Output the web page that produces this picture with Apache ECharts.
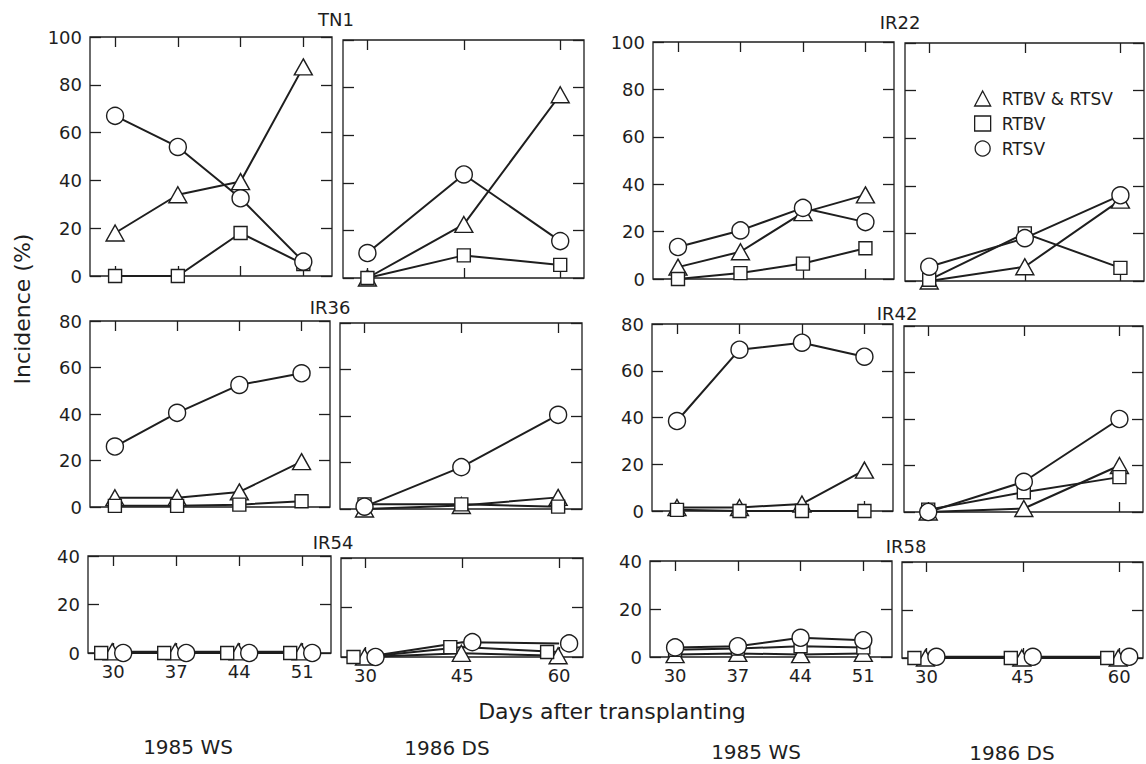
<!DOCTYPE html>
<html>
<head>
<meta charset="utf-8">
<script src="https://cdn.jsdelivr.net/npm/echarts@6/dist/echarts.min.js"></script>
<style>
  html, body { margin: 0; padding: 0; background: #fff; }
  #chart { width: 1146px; height: 764px; }
</style>
</head>
<body>
<div id="chart"></div>
<script>
var LEGEND_NAMES = ['RTBV & RTSV', 'RTBV', 'RTSV'];
var WS_DAYS = [30, 37, 44, 51];
var DS_DAYS = [30, 45, 60];

// TN1
var TN1_WS_BOTH = [18, 34, 39.5, 87.5];
var TN1_WS_RTBV = [0, 0, 18, 5];
var TN1_WS_RTSV = [67, 54, 32.5, 6];
var TN1_DS_BOTH = [0, 22.5, 77];
var TN1_DS_RTBV = [0, 9.5, 5.5];
var TN1_DS_RTSV = [10.5, 43.5, 15.5];
// IR22
var IR22_WS_BOTH = [5, 11.5, 28, 35.5];
var IR22_WS_RTBV = [0, 2.5, 6.5, 13];
var IR22_WS_RTSV = [13.5, 20.5, 30, 24];
var IR22_DS_BOTH = [0, 6, 34];
var IR22_DS_RTBV = [0.5, 20, 5.5];
var IR22_DS_RTSV = [6, 18, 36];
// IR36
var IR36_WS_BOTH = [4, 4, 6.5, 19.5];
var IR36_WS_RTBV = [0.5, 0.5, 1, 2.5];
var IR36_WS_RTSV = [26, 40.5, 52.5, 57.5];
var IR36_DS_BOTH = [0, 1.5, 5];
var IR36_DS_RTBV = [2, 2, 1];
var IR36_DS_RTSV = [1, 18, 40.5];
// IR42
var IR42_WS_BOTH = [1.5, 1.5, 3, 17.5];
var IR42_WS_RTBV = [0.5, 0, 0, 0];
var IR42_WS_RTSV = [38.5, 69, 72, 66];
var IR42_DS_BOTH = [0, 1.5, 20];
var IR42_DS_RTBV = [1, 8.5, 15];
var IR42_DS_RTSV = [0, 13, 40];
// IR54
var IR54_WS_BOTH = [0.5, 0.5, 0.5, 0.5];
var IR54_WS_RTBV = [0, 0, 0, 0];
var IR54_WS_RTSV = [0, 0, 0, 0];
var IR54_DS_BOTH = [0, 1.5, 0.5];
var IR54_DS_RTBV = [0, 4, 2];
var IR54_DS_RTSV = [0, 6, 5.5];
// IR58
var IR58_WS_BOTH = [1, 1.5, 1, 1.5];
var IR58_WS_RTBV = [3, 3.5, 4.5, 4];
var IR58_WS_RTSV = [4, 4.5, 8, 7];
var IR58_DS_BOTH = [0, 0, 0];
var IR58_DS_RTBV = [0, 0, 0];
var IR58_DS_RTSV = [0.5, 0.5, 0.5];

var FONT = 'DejaVu Sans';
var INK = '#1e1e1e';

var panels = [
  { season: 'WS', rect: [90, 37, 242, 239], yMax: 100, data: [TN1_WS_BOTH, TN1_WS_RTBV, TN1_WS_RTSV] },
  { season: 'DS', rect: [343, 40, 241, 238], yMax: 100, data: [TN1_DS_BOTH, TN1_DS_RTBV, TN1_DS_RTSV] },
  { season: 'WS', rect: [653, 42, 241, 237], yMax: 100, data: [IR22_WS_BOTH, IR22_WS_RTBV, IR22_WS_RTSV] },
  { season: 'DS', rect: [905, 43, 239, 238], yMax: 100, data: [IR22_DS_BOTH, IR22_DS_RTBV, IR22_DS_RTSV] },
  { season: 'WS', rect: [90, 321, 240, 186], yMax: 80, data: [IR36_WS_BOTH, IR36_WS_RTBV, IR36_WS_RTSV] },
  { season: 'DS', rect: [340, 323, 242, 186], yMax: 80, data: [IR36_DS_BOTH, IR36_DS_RTBV, IR36_DS_RTSV] },
  { season: 'WS', rect: [652, 324, 241, 187], yMax: 80, data: [IR42_WS_BOTH, IR42_WS_RTBV, IR42_WS_RTSV] },
  { season: 'DS', rect: [904, 326, 239, 186], yMax: 80, data: [IR42_DS_BOTH, IR42_DS_RTBV, IR42_DS_RTSV] },
  { season: 'WS', rect: [88, 556, 243, 97], yMax: 40, bottom: true, spread: true, data: [IR54_WS_BOTH, IR54_WS_RTBV, IR54_WS_RTSV] },
  { season: 'DS', rect: [341, 558, 242, 99], yMax: 40, bottom: true, spread: true, data: [IR54_DS_BOTH, IR54_DS_RTBV, IR54_DS_RTSV] },
  { season: 'WS', rect: [650, 561, 242, 96], yMax: 40, bottom: true, data: [IR58_WS_BOTH, IR58_WS_RTBV, IR58_WS_RTSV] },
  { season: 'DS', rect: [902, 562, 241, 96], yMax: 40, bottom: true, spread: true, data: [IR58_DS_BOTH, IR58_DS_RTBV, IR58_DS_RTSV] }
];

var SYMBOLS = ['triangle', 'rect', 'circle'];
var SYMBOL_SIZES = [[18, 16], 13, 17];
var SPREAD_OFFSETS = [[-1, 0], [-12, 0], [10, 0]];

var grids = [], xAxes = [], yAxes = [], series = [];
var tickStyle = { color: INK, width: 1.3 };

panels.forEach(function (p, i) {
  var ws = p.season === 'WS';
  var days = ws ? WS_DAYS : DS_DAYS;
  var xr = ws ? [27.2, 54.2] : [26.2, 63.7];

  grids.push({
    left: p.rect[0], top: p.rect[1], width: p.rect[2], height: p.rect[3],
    show: true, borderColor: INK, borderWidth: 1.3
  });

  // bottom and top x axes, ticks pointing into the frame
  ['bottom', 'top'].forEach(function (pos) {
    xAxes.push({
      type: 'value', gridIndex: i, position: pos, min: xr[0], max: xr[1],
      axisLine: { show: false, onZero: false },
      axisTick: { show: true, inside: true, length: 10, customValues: days, lineStyle: tickStyle },
      axisLabel: {
        show: pos === 'bottom' && !!p.bottom, customValues: days,
        margin: 9, fontSize: 18, fontFamily: FONT, color: INK
      },
      splitLine: { show: false }
    });
  });

  ['left', 'right'].forEach(function (pos) {
    yAxes.push({
      type: 'value', gridIndex: i, position: pos, min: 0, max: p.yMax, interval: 20,
      axisLine: { show: false, onZero: false },
      axisTick: { show: true, inside: true, length: 11, lineStyle: tickStyle },
      axisLabel: {
        show: pos === 'left' && ws,
        margin: 8, fontSize: 18, fontFamily: FONT, color: INK
      },
      splitLine: { show: false }
    });
  });

  p.data.forEach(function (vals, k) {
    series.push({
      name: LEGEND_NAMES[k],
      type: 'line',
      xAxisIndex: 2 * i,
      yAxisIndex: 2 * i,
      data: vals.map(function (v, j) { return [days[j], v]; }),
      symbol: SYMBOLS[k],
      symbolSize: SYMBOL_SIZES[k],
      symbolOffset: p.spread ? SPREAD_OFFSETS[k] : [0, 0],
      showAllSymbol: true,
      lineStyle: { color: INK, width: 2 },
      itemStyle: { color: '#fff', borderColor: INK, borderWidth: 1.4 },
      emphasis: { disabled: true },
      silent: true
    });
  });
});

function label(text, x, y, size, rot) {
  return {
    type: 'text', x: x, y: y, rotation: rot || 0,
    style: { text: text, fontSize: size, fontFamily: FONT, fill: INK, align: 'center', verticalAlign: 'middle' }
  };
}

var chart = echarts.init(document.getElementById('chart'), null, { renderer: 'svg' });
chart.setOption({
  animation: false,
  backgroundColor: '#fff',
  grid: grids,
  xAxis: xAxes,
  yAxis: yAxes,
  series: series,
  legend: {
    orient: 'vertical', left: 969, top: 85,
    itemWidth: 16, itemHeight: 15, itemGap: 8,
    selectedMode: false,
    itemStyle: { color: '#fff', borderColor: INK, borderWidth: 1.3 },
    textStyle: { fontSize: 17, fontFamily: FONT, color: INK, padding: [0, 0, 0, 6] },
    data: [
      { name: 'RTBV & RTSV', icon: 'triangle' },
      { name: 'RTBV', icon: 'rect' },
      { name: 'RTSV', icon: 'circle' }
    ]
  },
  graphic: [
    label('TN1', 336, 19, 18),
    label('IR22', 900, 22, 18),
    label('IR36', 330, 307, 18),
    label('IR42', 897, 313, 18),
    label('IR54', 333, 542, 18),
    label('IR58', 906, 546, 18),
    label('Incidence (%)', 22, 309, 22, Math.PI / 2),
    label('Days after transplanting', 612, 711, 22),
    label('1985 WS', 188, 747, 20),
    label('1986 DS', 447, 748, 20),
    label('1985 WS', 756, 752, 20),
    label('1986 DS', 1012, 753, 20)
  ]
});
</script>
</body>
</html>
